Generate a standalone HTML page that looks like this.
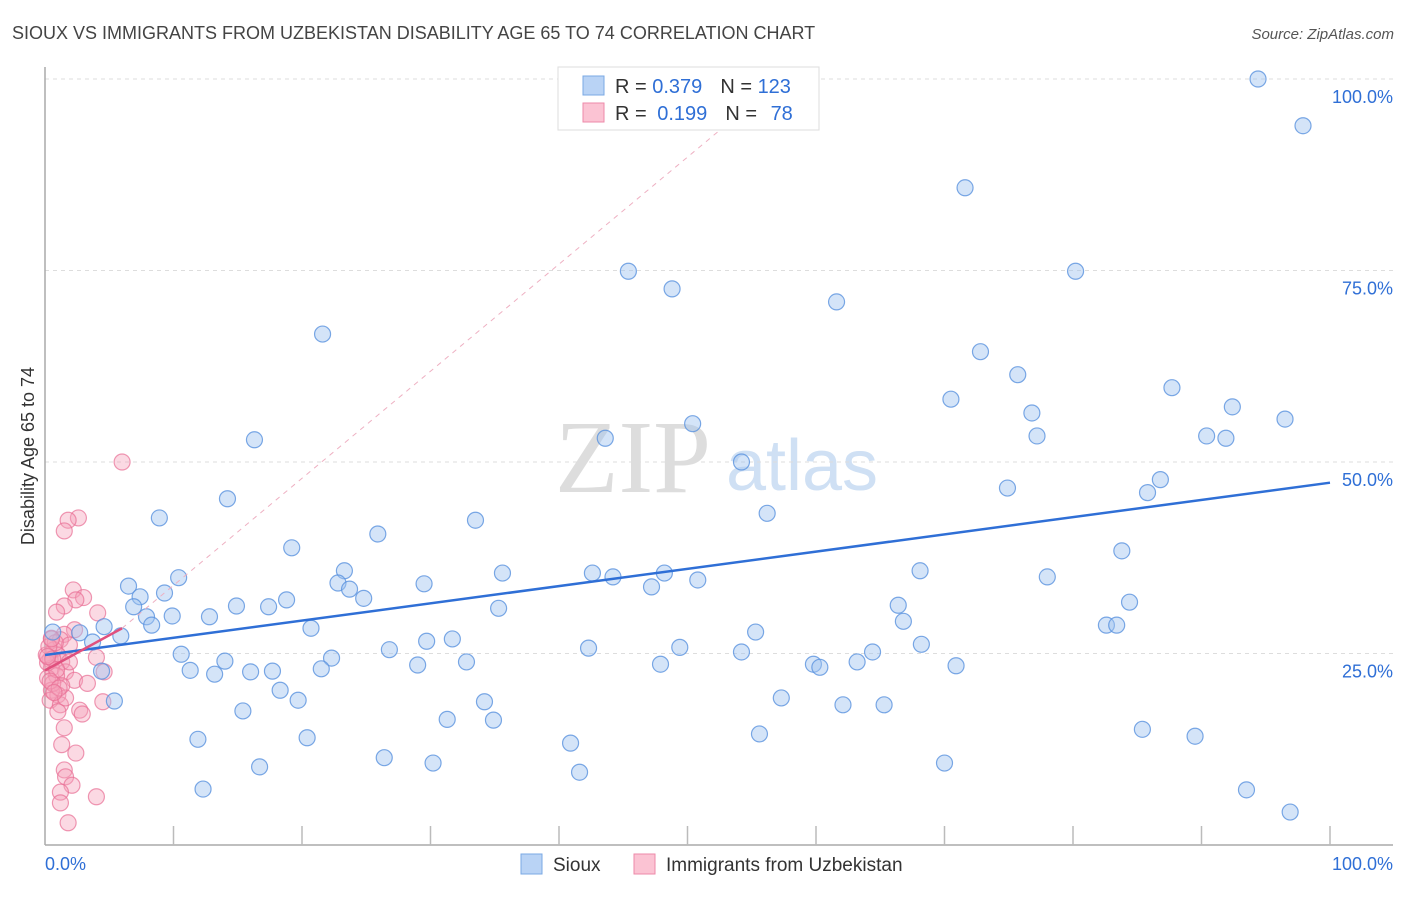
<!DOCTYPE html>
<html><head><meta charset="utf-8"><style>
body{margin:0;background:#fff;font-family:"Liberation Sans",sans-serif;}
svg text{font-family:"Liberation Sans",sans-serif;}
</style></head><body>
<svg id="chart" width="1406" height="892">
<text x="12" y="39" font-size="18" fill="#444">SIOUX VS IMMIGRANTS FROM UZBEKISTAN DISABILITY AGE 65 TO 74 CORRELATION CHART</text>
<text x="1394" y="39" font-size="15" fill="#555" text-anchor="end" font-style="italic">Source: ZipAtlas.com</text>
<g>
<text x="633" y="492" font-size="104" fill="#ddd" text-anchor="middle" font-family="Liberation Serif" style="font-family:'Liberation Serif',serif">ZIP</text>
<text x="802" y="490" font-size="72" fill="#cfe0f4" text-anchor="middle">atlas</text>
</g>
<g id="grid"></g>
<g id="axes"></g>
<g id="pts"></g>
<g id="trend"></g>
<text transform="translate(34,456) rotate(-90)" font-size="18" fill="#333" text-anchor="middle">Disability Age 65 to 74</text>
<g>
<rect x="558" y="67" width="261" height="63" fill="#fff" stroke="#ddd"/>
<rect x="583" y="76" width="21" height="19" fill="#b9d3f5" stroke="#7aa8e4"/>
<rect x="583" y="103" width="21" height="19" fill="#fbc3d3" stroke="#ee8aa8"/>
<text x="615" y="93" font-size="20" fill="#333">R = <tspan fill="#2f6fd6">0.379</tspan><tspan dx="18">N = </tspan><tspan fill="#2f6fd6">123</tspan></text>
<text x="615" y="120" font-size="20" fill="#333">R = <tspan fill="#2f6fd6" dx="5">0.199</tspan><tspan dx="18">N = </tspan><tspan fill="#2f6fd6" dx="8">78</tspan></text>
</g>
<g>
<rect x="521" y="854" width="21" height="20" fill="#b9d3f5" stroke="#7aa8e4"/>
<text x="553" y="871" font-size="19" fill="#333">Sioux</text>
<rect x="634" y="854" width="21" height="20" fill="#fbc3d3" stroke="#ee8aa8"/>
<text x="666" y="871" font-size="19" fill="#333">Immigrants from Uzbekistan</text>
</g>
</svg>
<script>
const blueX=[94.4,97.9,71.6,45.4,80.2,48.8,61.6,21.6,72.8,75.7,87.7,70.5,92.4,76.8,96.5,50.4,77.2,90.4,91.9,43.6,16.3,54.2,86.8,74.9,85.8,14.2,56.2,8.9,33.5,25.9,19.2,83.8,23.3,68.1,35.6,42.6,48.2,44.2,78.0,10.4,50.8,22.8,29.5,6.5,23.7,47.2,9.3,7.4,24.8,18.8,84.4,14.9,6.9,17.4,35.3,66.4,9.9,12.8,7.9,66.8,8.3,82.6,83.4,20.7,4.6,0.6,2.7,5.9,55.3,29.7,31.7,3.7,68.2,42.3,49.4,26.8,54.2,64.4,10.6,22.3,14.0,63.2,32.8,47.9,29.0,59.8,60.3,70.9,21.5,11.3,16.0,17.7,13.2,4.4,18.3,5.4,57.3,19.7,34.2,62.1,65.3,15.4,31.3,34.9,85.4,11.9,20.4,55.6,89.5,40.9,26.4,70.0,16.7,30.2,41.6,12.3,93.5,96.9];
const blueY=[100,93.9,85.8,74.9,74.9,72.6,70.9,66.7,64.4,61.4,59.7,58.2,57.2,56.4,55.6,55.0,53.4,53.4,53.1,53.1,52.9,50.0,47.7,46.6,46.0,45.2,43.3,42.7,42.4,40.6,38.8,38.4,35.8,35.8,35.5,35.5,35.5,35.0,35.0,34.9,34.6,34.2,34.1,33.8,33.4,33.7,32.9,32.4,32.2,32.0,31.7,31.2,31.1,31.1,30.9,31.3,29.9,29.8,29.8,29.2,28.7,28.7,28.7,28.3,28.5,27.8,27.7,27.3,27.8,26.6,26.9,26.5,26.2,25.7,25.8,25.5,25.2,25.2,24.9,24.4,24.0,23.9,23.9,23.6,23.5,23.6,23.2,23.4,23.0,22.8,22.6,22.7,22.3,22.7,20.2,18.8,19.2,18.9,18.7,18.3,18.3,17.5,16.4,16.3,15.1,13.8,14.0,14.5,14.2,13.3,11.4,10.7,10.2,10.7,9.5,7.3,7.2,4.3];
const pinkX=[6.0,2.6,1.8,1.5,2.2,3.0,2.4,1.5,4.1,0.9,2.3,1.5,0.5,1.2,1.9,0.7,1.0,4.0,0.4,1.3,0.5,1.6,4.6,0.9,0.2,2.3,3.3,1.3,0.5,1.0,0.4,4.5,1.2,2.7,2.9,1.0,1.5,1.3,2.4,1.5,1.6,2.1,1.2,4.0,1.2,1.8,0.8,0.2,1.9,0.6,1.6,0.1,0.3,0.6,0.9,0.4,1.1,0.7,0.2,0.5];
const pinkY=[50.0,42.7,42.4,41.0,33.3,32.3,32.0,31.2,30.3,30.4,28.1,27.5,27.0,26.8,26.1,25.5,24.8,24.5,24.2,23.9,23.1,22.6,22.6,22.1,21.8,21.5,21.1,20.8,20.2,19.6,18.9,18.7,18.3,17.6,17.1,17.4,15.3,13.1,12.0,9.8,8.9,7.8,6.9,6.3,5.5,2.9,26.4,23.8,23.9,21.1,19.2,24.8,25.9,24.3,22.9,21.4,20.5,19.9,24.6,26.9];
const blueTrend=[24.8,47.3];
const pinkTrend=[22.8,28.3];
const pinkExtEnd=[52.5,93.3];
const yTicks=[25,50,75,100];
const yTickLabels=["25.0%","50.0%","75.0%","100.0%"];
const xTicks=[0,10,20,30,40,50,60,70,80,90,100];

const NS="http://www.w3.org/2000/svg";
const X=v=>45+v*12.85, Y=v=>845-v*7.66;
function mk(tag,attrs,parent){const e=document.createElementNS(NS,tag);for(const k in attrs)e.setAttribute(k,attrs[k]);document.getElementById(parent).appendChild(e);return e;}
yTicks.forEach((t,i)=>{
 const l=mk('line',{x1:45,x2:1393,y1:Y(t),y2:Y(t),stroke:'#ddd','stroke-dasharray':'4,4'},'grid');
 
 
 const tx=mk('text',{x:1393,y:Y(t)+24,'font-size':18,fill:'#2f6fd6','text-anchor':'end'},'grid');
 tx.textContent=yTickLabels[i];
 
 
});
mk('line',{x1:45,x2:45,y1:67,y2:845,stroke:'#aaa','stroke-width':1.5},'axes');
mk('line',{x1:45,x2:1393,y1:845,y2:845,stroke:'#aaa','stroke-width':1.5},'axes');
xTicks.forEach(t=>{if(t>0){const l=mk('line',{x1:X(t),x2:X(t),y1:826,y2:845,stroke:'#bbb','stroke-width':1.5},'axes');
 
 }});
let a=mk('text',{x:45,y:870,'font-size':18,fill:'#2f6fd6'},'axes');a.textContent='0.0%';


let b=mk('text',{x:1393,y:870,'font-size':18,fill:'#2f6fd6','text-anchor':'end'},'axes');b.textContent='100.0%';


pinkX.forEach((v,i)=>{const c=mk('circle',{cx:X(v),cy:Y(pinkY[i]),r:8,fill:'rgba(246,160,186,0.4)',stroke:'rgba(232,110,148,0.7)','stroke-width':1.2},'pts');
 
 });
blueX.forEach((v,i)=>{const c=mk('circle',{cx:X(v),cy:Y(blueY[i]),r:8,fill:'rgba(160,196,240,0.45)',stroke:'rgba(90,146,222,0.8)','stroke-width':1.2},'pts');
 
 });
const pd=mk('line',{x1:X(6),y1:Y(pinkTrend[1]),x2:X(pinkExtEnd[0]),y2:Y(pinkExtEnd[1]),stroke:'#eeb0c2','stroke-dasharray':'5,5'},'trend');


const bt=mk('line',{x1:X(0),y1:Y(blueTrend[0]),x2:X(100),y2:Y(blueTrend[1]),stroke:'#2f6fd6','stroke-width':2.5},'trend');


const pt=mk('line',{x1:X(0),y1:Y(pinkTrend[0]),x2:X(6),y2:Y(pinkTrend[1]),stroke:'#e0507e','stroke-width':2.5},'trend');


</script>
</body></html>
